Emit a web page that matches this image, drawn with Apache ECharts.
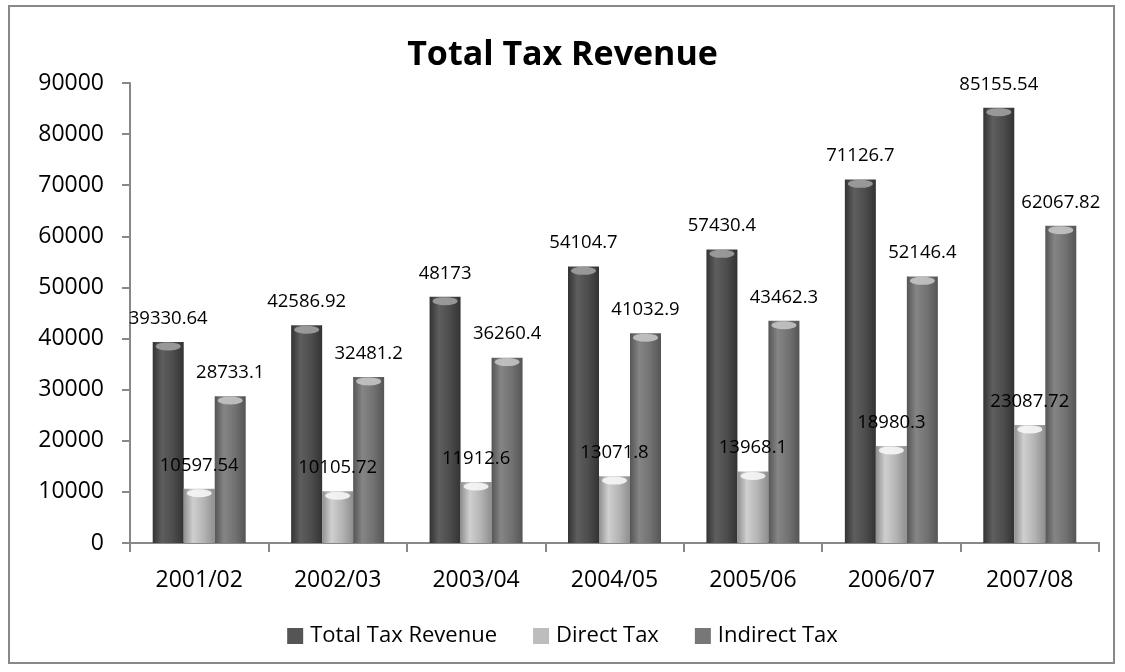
<!DOCTYPE html>
<html>
<head>
<meta charset="utf-8">
<script src="https://cdn.jsdelivr.net/npm/echarts@6/dist/echarts.min.js"></script>
<style>
  html, body { margin: 0; padding: 0; background: #fff; }
  #chart { width: 1125px; height: 672px; }
</style>
</head>
<body>
<div id="chart"></div>
<script>
// Fiscal years and revenue figures
const years = ['2001/02', '2002/03', '2003/04', '2004/05', '2005/06', '2006/07', '2007/08'];
const totalTax = [39330.64, 42586.92, 48173, 54104.7, 57430.4, 71126.7, 85155.54];
const directTax = [10597.54, 10105.72, 11912.6, 13071.8, 13968.1, 18980.3, 23087.72];
const indirectTax = [28733.1, 32481.2, 36260.4, 41032.9, 43462.3, 52146.4, 62067.82];
const yTicks = { min: 0, max: 90000, interval: 10000 };

const FONT = '"Open Sans", sans-serif';
const BAR_W = 31;

// Horizontal gradient giving each bar a rounded, cylindrical shading
function cylinder(dark, mid, light) {
  return new echarts.graphic.LinearGradient(0, 0, 1, 0, [
    { offset: 0, color: dark },
    { offset: 0.3, color: light },
    { offset: 0.65, color: mid },
    { offset: 1, color: dark }
  ]);
}

const styles = [
  { name: 'Total Tax Revenue', data: totalTax, fill: cylinder('#333333', '#4d4d4d', '#5e5e5e'), cap: '#a0a0a0', icon: '#555555' },
  { name: 'Direct Tax', data: directTax, fill: cylinder('#8f8f8f', '#b4b4b4', '#cfcfcf'), cap: '#f6f6f6', icon: '#bdbdbd' },
  { name: 'Indirect Tax', data: indirectTax, fill: cylinder('#555555', '#727272', '#858585'), cap: '#c4c4c4', icon: '#777777' }
];

const barSeries = styles.map(s => ({
  name: s.name,
  type: 'bar',
  data: s.data,
  barWidth: BAR_W,
  barGap: '0%',
  itemStyle: { color: s.fill },
  label: {
    show: true,
    position: 'top',
    distance: 14,
    color: '#000',
    fontFamily: FONT,
    fontSize: 18.5,
    formatter: p => String(p.value)
  },
  z: 2
}));

// Light elliptical cap at the top of each bar
const capSeries = styles.map(s => ({
  type: 'pictorialBar',
  data: s.data,
  symbol: 'circle',
  symbolSize: [BAR_W - 6, 8],
  symbolPosition: 'end',
  symbolOffset: [0, '5%'],
  barWidth: BAR_W,
  barGap: '0%',
  itemStyle: { color: s.cap, opacity: 0.9 },
  silent: true,
  z: 3
}));

const chart = echarts.init(document.getElementById('chart'), null, { renderer: 'canvas' });
chart.setOption({
  backgroundColor: '#ffffff',
  animation: false,
  title: {
    text: 'Total Tax Revenue',
    left: 'center',
    top: 33,
    textStyle: { fontFamily: FONT, fontWeight: 'bold', fontSize: 34, color: '#000' }
  },
  legend: {
    data: styles.map(s => ({ name: s.name, itemStyle: { color: s.icon } })),
    bottom: 20,
    left: 'center',
    icon: 'rect',
    itemWidth: 16,
    itemHeight: 16,
    itemGap: 36,
    textStyle: { fontFamily: FONT, fontSize: 22, color: '#000', padding: [0, 0, 0, 2] }
  },
  grid: { left: 130, right: 26, top: 83, bottom: 129, containLabel: false },
  xAxis: {
    type: 'category',
    data: years,
    axisLine: { lineStyle: { color: '#888888', width: 2 } },
    axisTick: { show: true, length: 9, lineStyle: { color: '#888888', width: 2 } },
    axisLabel: { fontFamily: FONT, fontSize: 23, color: '#000', margin: 26 }
  },
  yAxis: {
    type: 'value',
    min: yTicks.min,
    max: yTicks.max,
    interval: yTicks.interval,
    axisLine: { show: true, lineStyle: { color: '#888888', width: 2 } },
    axisTick: { show: true, length: 8, lineStyle: { color: '#888888', width: 2 } },
    splitLine: { show: false },
    axisLabel: { fontFamily: FONT, fontSize: 23, color: '#000', margin: 26, formatter: v => String(v) }
  },
  graphic: [{
    type: 'rect',
    shape: { x: 9, y: 6, width: 1105, height: 657 },
    style: { fill: 'none', stroke: '#888888', lineWidth: 2 },
    silent: true,
    z: -1
  }],
  series: [...barSeries, ...capSeries]
});
</script>
</body>
</html>
